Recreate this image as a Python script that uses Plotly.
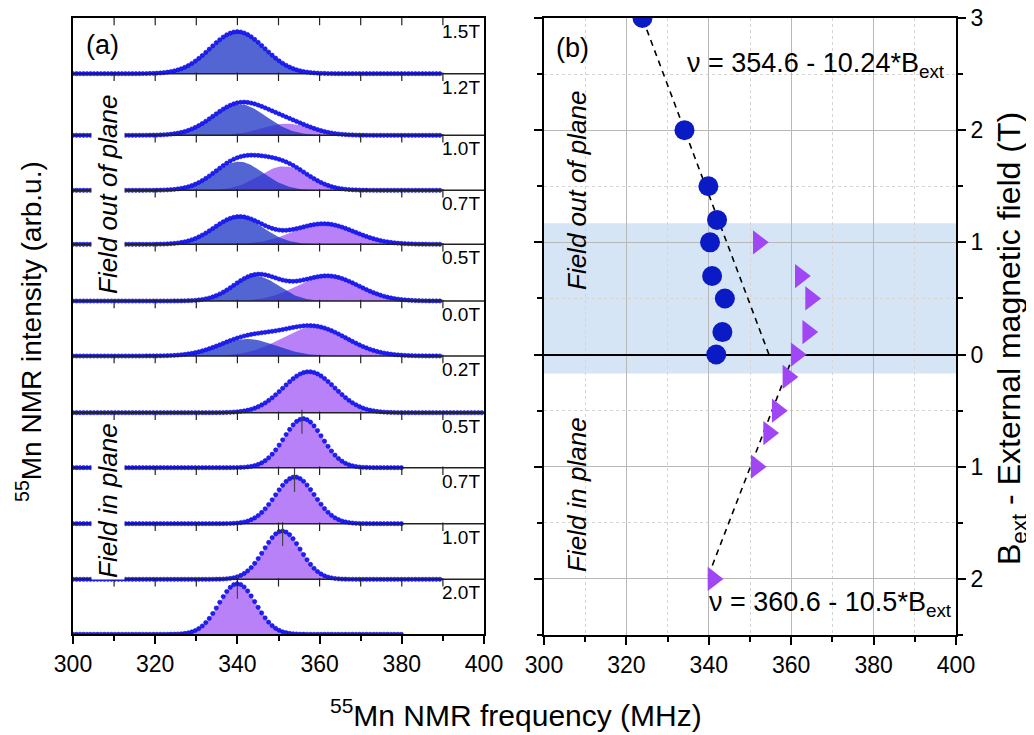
import numpy as np
import plotly.graph_objects as go

W, H = 1034, 735

# ---------------- panel (a): 55Mn NMR spectra, top to bottom ----------------
row_labels = ['1.5T', '1.2T', '1.0T', '0.7T', '0.5T', '0.0T',
              '0.2T', '0.5T', '0.7T', '1.0T', '2.0T']
# first gaussian component (blue)
blue_center = [340.0, 340.5, 340.3, 340.3, 344.5, 342.4, 0, 0, 0, 0, 0]
blue_amp = [42.0, 31.0, 28.6, 27.3, 25.0, 17.0, 0, 0, 0, 0, 0]
blue_width = [6.6, 6.5, 6.0, 6.0, 5.5, 7.0, 1, 1, 1, 1, 1]
# second gaussian component (purple)
purple_center = [0, 352.0, 351.3, 361.0, 362.0, 358.6, 357.4, 356.0, 354.0, 350.9, 340.0]
purple_amp = [0, 11.6, 24.0, 20.5, 25.0, 29.0, 41.0, 49.0, 46.7, 48.3, 50.6]
purple_width = [1, 6.0, 6.0, 7.5, 7.5, 8.0, 6.3, 4.7, 4.8, 4.5, 4.5]
scan_end = [390, 390, 390, 390, 390, 390, 400, 380, 380, 390, 380]
# peak position markers (field in plane)
mark_rows = [7, 8, 9, 10]
mark_freq = [355.7, 353.9, 351.0, 340.0]

# ---------------- panel (b): peak frequency vs field ----------------
circ_B = [3.0, 2.0, 1.5, 1.2, 1.0, 0.7, 0.5, 0.2, 0.0]
circ_nu = [323.9, 334.1, 339.9, 342.0, 340.3, 340.8, 343.9, 343.3, 341.8]
tri_out_B = [1.0, 0.7, 0.5, 0.2, 0.0]
tri_out_nu = [352.0, 362.2, 364.7, 364.0, 361.2]
tri_in_B = [0.2, 0.5, 0.7, 1.0, 2.0]      # field in plane, plotted downwards
tri_in_nu = [359.2, 356.6, 354.5, 351.5, 341.0]
fit_out = (354.6, -10.24, 3.0)  # nu0, slope, B max
fit_in = (360.6, -10.5, 2.0)
b_tickvals = [3, 2, 1, 0, -1, -2]
b_ticktext = ['3', '2', '1', '0', '1', '2']

FONT = 'Arial, Liberation Sans, sans-serif'
BLUE_FILL = 'rgba(25,50,195,0.75)'
PURPLE_FILL = 'rgba(155,75,245,0.7)'
PAGE = 7  # page body margin of the html


def px(x):
    return (x - PAGE) / W


def py(y):
    return 1 - (y - PAGE) / H


def gauss(x, c, a, w):
    return a * np.exp(-(x - c) ** 2 / (2 * w ** 2))


# layout of the stacked spectra (pixel rows)
top_px = 17.0
base_px = [72.7, 134.3, 189.3, 243.3, 300.0, 355.0, 411.7, 466.7, 522.7, 578.3, 633.3]
bottom_px = base_px[-1]
yrange_a = bottom_px - top_px
offsets = [bottom_px - b for b in base_px]

fig = go.Figure()
grid = np.arange(300, 400.01, 0.4)
for i in range(len(row_labels)):
    off = offsets[i]
    for c, a, w, col in [(purple_center[i], purple_amp[i], purple_width[i], PURPLE_FILL),
                         (blue_center[i], blue_amp[i], blue_width[i], BLUE_FILL)]:
        if a <= 0:
            continue
        g = gauss(grid, c, a, w)
        fig.add_scatter(x=np.r_[grid, grid[::-1]], y=np.r_[off + g, np.full(len(grid), off)],
                        fill='toself', fillcolor=col, mode='lines', line=dict(width=0),
                        hoverinfo='skip', showlegend=False, xaxis='x', yaxis='y')
    xs = np.arange(300, scan_end[i] + 0.01, 0.85)
    ys = off + gauss(xs, blue_center[i], blue_amp[i], blue_width[i]) \
        + gauss(xs, purple_center[i], purple_amp[i], purple_width[i])
    fig.add_scatter(x=xs, y=ys, mode='markers',
                    marker=dict(size=4.2, color='rgb(30,30,255)',
                                line=dict(width=0.6, color='rgb(10,10,200)')),
                    showlegend=False, xaxis='x', yaxis='y')

# peak markers
for r, f in zip(mark_rows, mark_freq):
    top = offsets[r] + purple_amp[r]
    fig.add_scatter(x=[f, f], y=[top + 9, top - 15], mode='lines',
                    line=dict(color='#444', width=1.2), showlegend=False,
                    xaxis='x', yaxis='y')

# small ticks along each separator line
tx, ty = [], []
for off in offsets[:-1] + [yrange_a]:
    for v in range(310, 400, 10):
        tx.append(v)
        ty.append(off - 3)
fig.add_scatter(x=tx, y=ty, mode='markers',
                marker=dict(symbol='line-ns', size=6, line=dict(width=1.2, color='#222')),
                showlegend=False, xaxis='x', yaxis='y')

shapes = []
for off in offsets[:-1]:
    shapes.append(dict(type='line', xref='x', yref='y', x0=300, x1=400, y0=off, y1=off,
                       line=dict(color='#222', width=1.5)))

# ---- panel (b) traces
for nu0, k, bmax, sgn in [(fit_out[0], fit_out[1], fit_out[2], 1),
                          (fit_in[0], fit_in[1], fit_in[2], -1)]:
    bb = np.array([0.0, bmax])
    fig.add_scatter(x=nu0 + k * bb, y=sgn * bb, mode='lines',
                    line=dict(color='black', width=1.6, dash='6px,5px'),
                    showlegend=False, xaxis='x2', yaxis='y2')

fig.add_scatter(x=circ_nu, y=circ_B, mode='markers',
                marker=dict(symbol='circle', size=20, color='#0a1ac4'),
                showlegend=False, xaxis='x2', yaxis='y2')
fig.add_scatter(x=tri_out_nu + tri_in_nu, y=tri_out_B + [-b for b in tri_in_B], mode='markers',
                marker=dict(symbol='triangle-right', size=21, color='#a046f5'),
                showlegend=False, xaxis='x2', yaxis='y2')

shapes.append(dict(type='rect', xref='x2 domain', yref='y2', x0=0, x1=1, y0=-0.17, y1=1.17,
                   fillcolor='#d6e5f6', line=dict(width=0), layer='below'))

annotations = []
for i, lab in enumerate(row_labels):
    ytop = yrange_a if i == 0 else offsets[i - 1]
    annotations.append(dict(x=399.6, y=ytop - 1, xref='x', yref='y', text=lab,
                            xanchor='right', yanchor='top', showarrow=False,
                            font=dict(size=19)))


def note(x, y, text, size, angle=0, anchor='center', **kw):
    return dict(x=px(x), y=py(y), xref='paper', yref='paper', text=text, showarrow=False,
                textangle=angle, xanchor=anchor, yanchor='middle', font=dict(size=size), **kw)


annotations += [
    note(101, 44, '(a)', 27),
    note(107, 194, '<i>Field out of plane</i>', 26, -90, bgcolor='white'),
    note(107, 500, '<i>Field in plane</i>', 26, -90, bgcolor='white'),
    note(571, 47, '(b)', 27),
    note(576, 190, '<i>Field out of plane</i>', 26, -90),
    note(576, 494, '<i>Field in plane</i>', 26, -90),
    note(946, 64, '\u03bd = 354.6 - 10.24*B<sub>ext</sub>', 27, anchor='right'),
    note(953, 603, '\u03bd = 360.6 - 10.5*B<sub>ext</sub>', 27, anchor='right'),
    note(515, 712, '<sup>55</sup>Mn NMR frequency (MHz)', 30),
    note(28, 331, '<sup>55</sup>Mn NMR intensity (arb.u.)', 28, -90),
    note(1011, 338, 'B<sub>ext</sub> - External magnetic field (T)', 32, -90),
]

axis_common = dict(showline=True, linecolor='black', linewidth=2, ticks='outside',
                   ticklen=8, tickwidth=1.5, tickcolor='black', tickfont=dict(size=23),
                   automargin=False, ticklabeloverflow='allow')

fig.update_layout(
    width=W, height=H,
    margin=dict(l=0, r=0, t=0, b=0, autoexpand=False),
    paper_bgcolor='white', plot_bgcolor='white',
    font=dict(family=FONT, color='black'),
    xaxis=dict(domain=[px(72), px(483)], range=[300, 400], tickmode='linear', tick0=300,
               dtick=20, mirror=True, showgrid=False, zeroline=False, anchor='y',
               minor=dict(dtick=10, ticklen=5, ticks='outside', tickcolor='black'),
               **axis_common),
    yaxis=dict(domain=[py(bottom_px), py(top_px)], range=[0, yrange_a], showline=True,
               linecolor='black', linewidth=2, mirror=True, showticklabels=False,
               ticks='', showgrid=False, zeroline=False, anchor='x', automargin=False),
    xaxis2=dict(domain=[px(543), px(955)], range=[300, 400], tickmode='linear', tick0=300,
                dtick=20, mirror=True, showgrid=True, gridcolor='#b8b8b8', gridwidth=1,
                zeroline=False, anchor='y2',
                minor=dict(dtick=10, ticklen=5, ticks='outside', tickcolor='black',
                           showgrid=True, gridcolor='#d4d4d4', griddash='dot'),
                **axis_common),
    yaxis2=dict(domain=[py(634), py(top_px)], range=[-2.5, 3], side='right', anchor='x2',
                tickmode='array', tickvals=b_tickvals, ticktext=b_ticktext,
                mirror='ticks', showgrid=True, gridcolor='#b8b8b8', gridwidth=1,
                zeroline=True, zerolinecolor='black', zerolinewidth=2,
                minor=dict(tickvals=[2.5, 1.5, 0.5, -0.5, -1.5, -2.5], ticklen=5,
                           ticks='outside', tickcolor='black', showgrid=True,
                           gridcolor='#d4d4d4', griddash='dot'),
                **axis_common),
    shapes=shapes,
    annotations=annotations,
)

fig.write_html('out.html')
